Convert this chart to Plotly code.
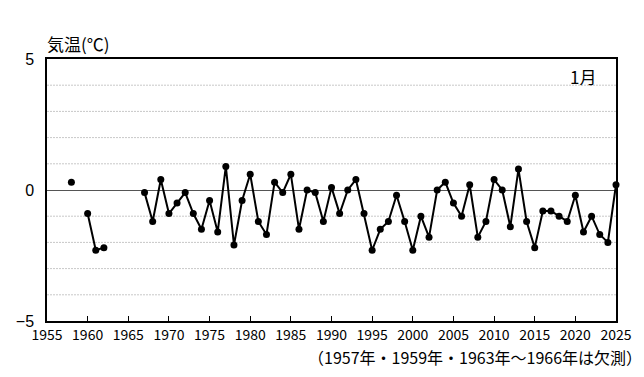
import plotly.graph_objects as go

years = list(range(1958, 2026))
temps = [
    0.3, None, -0.9, -2.3, -2.2, None, None, None, None,  # 1958-1966
    -0.1, -1.2, 0.4, -0.9, -0.5, -0.1, -0.9, -1.5, -0.4, -1.6,  # 1967-1976
    0.9, -2.1, -0.4, 0.6, -1.2, -1.7, 0.3, -0.1, 0.6, -1.5,  # 1977-1986
    0.0, -0.1, -1.2, 0.1, -0.9, 0.0, 0.4, -0.9, -2.3, -1.5,  # 1987-1996
    -1.2, -0.2, -1.2, -2.3, -1.0, -1.8, 0.0, 0.3, -0.5, -1.0,  # 1997-2006
    0.2, -1.8, -1.2, 0.4, 0.0, -1.4, 0.8, -1.2, -2.2, -0.8,  # 2007-2016
    -0.8, -1.0, -1.2, -0.2, -1.6, -1.0, -1.7, -2.0, 0.2,  # 2017-2025
]
x_ticks = list(range(1955, 2026, 5))
y_ticks = [-5, 0, 5]
title_text = "気温(℃)"
month_text = "1月"
note_text = "（1957年・1959年・1963年～1966年は欠測）"

FONT = "Noto Sans CJK JP"

fig = go.Figure()
fig.add_trace(go.Scatter(
    x=years, y=temps, mode="lines+markers",
    line=dict(color="black", width=2),
    marker=dict(color="black", size=7),
    connectgaps=False, showlegend=False, cliponaxis=False,
))

fig.update_layout(
    width=644, height=377,
    margin=dict(l=47, r=24, t=59, b=56),
    paper_bgcolor="white", plot_bgcolor="white",
    font=dict(family=FONT, color="black", size=13),
    xaxis=dict(
        range=[1955, 2025], tickvals=x_ticks, ticktext=[str(t) for t in x_ticks],
        ticks="inside", ticklen=5, tickcolor="black", tickwidth=1,
        showgrid=False, zeroline=False,
        showline=True, linecolor="black", linewidth=1.5, mirror=True,
        tickfont=dict(size=14, family=FONT),
    ),
    yaxis=dict(
        range=[-5, 5], tickvals=y_ticks, ticktext=["\u22125", "0", "5"],
        ticks="", showgrid=False,
        zeroline=True, zerolinecolor="#555555", zerolinewidth=1,
        showline=True, linecolor="black", linewidth=1.5, mirror=True,
        tickfont=dict(size=16, family="Liberation Sans"),
        ticklabelstandoff=8,
    ),
    shapes=[
        dict(type="line", xref="paper", x0=0, x1=1, yref="y", y0=v, y1=v,
             line=dict(color="#c8c8c8", width=1, dash="2px,1px"), layer="below")
        for v in [-4, -3, -2, -1, 1, 2, 3, 4]
    ],
    annotations=[
        dict(text=title_text, xref="paper", yref="paper", x=-0.004, y=1.061,
             xanchor="left", yanchor="middle", showarrow=False,
             font=dict(size=17, family=FONT)),
        dict(text=month_text, xref="paper", yref="paper", x=0.942, y=0.935,
             xanchor="center", yanchor="middle", showarrow=False,
             font=dict(size=17, family=FONT)),
        dict(text=note_text, xref="paper", yref="paper", x=0.455, y=-0.137,
             xanchor="left", yanchor="middle", showarrow=False,
             font=dict(size=16, family=FONT)),
    ],
)

fig.write_html(
    "out.html",
    config={"displayModeBar": False},
    post_script="document.body.style.margin='0';document.body.style.overflow='hidden';",
)
